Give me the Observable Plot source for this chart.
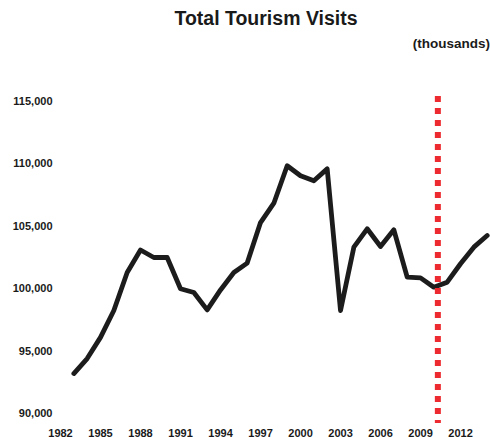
<!DOCTYPE html>
<html><head><meta charset="utf-8">
<script src="https://cdn.jsdelivr.net/npm/d3@7"></script>
<script src="https://cdn.jsdelivr.net/npm/@observablehq/plot@0.6"></script>
<style>
body{margin:0;background:#fff;font-family:"Liberation Sans",Arial,sans-serif;color:#1a1a1a;}
#wrap{position:relative;width:490px;height:438px;overflow:hidden;}
#title{position:absolute;left:0;top:8px;width:490px;padding-left:42px;box-sizing:border-box;text-align:center;font-weight:bold;font-size:19.5px;line-height:20px;}
#sub{position:absolute;right:0;top:37px;font-weight:bold;font-size:13.5px;line-height:13.5px;}
#chart{position:absolute;left:0;top:56px;}
</style></head>
<body>
<div id="wrap">
  <div id="title">Total Tourism Visits</div>
  <div id="sub">(thousands)</div>
  <div id="chart"></div>
</div>
<script>
const years = [1983,1984,1985,1986,1987,1988,1989,1990,1991,1992,1993,1994,1995,1996,1997,1998,1999,2000,2001,2002,2003,2004,2005,2006,2007,2008,2009,2010,2011,2012,2013,2014];
const visits = [93200,94400,96100,98250,101300,103100,102500,102500,100000,99700,98300,99900,101300,102050,105300,106850,109850,109050,108650,109600,98250,103330,104800,103380,104720,100920,100870,100120,100520,102000,103330,104260];
const xTicks = [1982,1985,1988,1991,1994,1997,2000,2003,2006,2009,2012];
const yTicks = [90000,95000,100000,105000,110000,115000];
const markerYear = [2010.3];
const markerSpan = [115400, 89200];

const data = years.map((y,i)=>({year:y, value:visits[i]}));

const chart = Plot.plot({
  width: 490,
  height: 382,
  marginLeft: 60,
  marginRight: 3.3,
  marginTop: 45,
  marginBottom: 25,
  style: {fontFamily:"'Liberation Sans', Arial, sans-serif", fontSize:"11px", fontWeight:"bold", color:"#1a1a1a", background:"#fff", overflow:"visible"},
  x: {domain:[1982,2014], ticks:xTicks, tickFormat:"d", tickSize:0, tickPadding:16, label:null},
  y: {domain:[90000,115000], ticks:yTicks, tickFormat:d3.format(","), tickSize:0, tickPadding:8, label:null},
  marks: [
    Plot.line(data, {x:"year", y:"value", stroke:"#1c1c1c", strokeWidth:4.8}),
    Plot.ruleX(markerYear, {x:d=>d, y1:markerSpan[0], y2:markerSpan[1], stroke:"#ec2a30", strokeWidth:6, strokeDasharray:"6,6"})
  ]
});
document.getElementById("chart").appendChild(chart);
</script>
</body></html>
